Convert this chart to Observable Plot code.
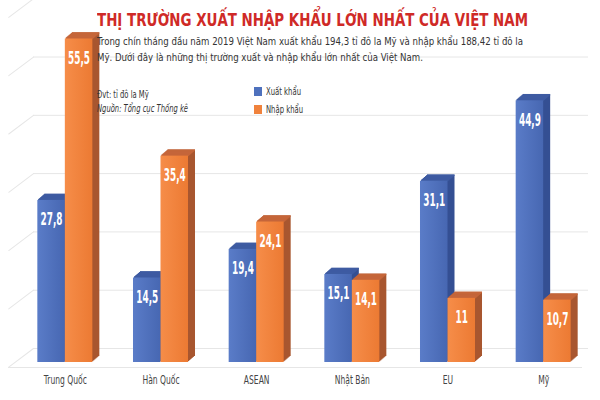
<!DOCTYPE html>
<html>
<head>
<meta charset="utf-8">
<script src="https://cdn.jsdelivr.net/npm/d3@7"></script>
<script src="https://cdn.jsdelivr.net/npm/@observablehq/plot@0.6"></script>
<style>
  html, body { margin: 0; padding: 0; background: #fff; }
  #wrap { position: relative; width: 600px; height: 400px; overflow: hidden;
          font-family: "DejaVu Sans Condensed", "DejaVu Sans", sans-serif; }
  #chart { position: absolute; left: 0; top: 0; }
  .ov { position: absolute; white-space: nowrap; transform-origin: 0 0; }
  #title { left: 97px; top: 12px; font-size: 17px; line-height: 1; font-weight: bold; color: #cf2a27; }
  #sub { left: 97px; top: 34px; font-size: 11px; line-height: 15.5px; color: #333; }
  #unit { left: 97px; top: 88px; font-size: 11px; line-height: 14px; color: #333; }
  #legend { left: 254px; top: 83px; font-size: 11px; line-height: 18px; color: #333; }
  #legend span.sw { display: inline-block; width: 8px; height: 9px; margin-right: 4px; vertical-align: -1px; }
  #legend span.lt { display: inline-block; transform-origin: 0 50%; }
</style>
</head>
<body>
<div id="wrap">
  <div id="chart"></div>
  <div class="ov" id="title"></div>
  <div class="ov" id="sub"></div>
  <div class="ov" id="unit"></div>
  <div class="ov" id="legend"></div>
</div>
<script>
// ---- data ----
const categories = ["Trung Quốc", "Hàn Quốc", "ASEAN", "Nhật Bản", "EU", "Mỹ"];
const exportValues = [27.8, 14.5, 19.4, 15.1, 31.1, 44.9];
const importValues = [55.5, 35.4, 24.1, 14.1, 11, 10.7];
const seriesNames = ["Xuất khẩu", "Nhập khẩu"];
const gridTicks = [0, 10, 20, 30, 40, 50, 60];
const titleText = "THỊ TRƯỜNG XUẤT NHẬP KHẨU LỚN NHẤT CỦA VIỆT NAM";
const subtitleLines = [
  "Trong chín tháng đầu năm 2019 Việt Nam xuất khẩu 194,3 tỉ đô la Mỹ và nhập khẩu 188,42 tỉ đô la",
  "Mỹ. Dưới đây là những thị trường xuất và nhập khẩu lớn nhất của Việt Nam."
];
const unitText = "Đvt: tỉ đô la Mỹ";
const sourceText = "Nguồn: Tổng cục Thống kê";

// ---- styles ----
const palette = {
  "Xuất khẩu": {front: "url(#gBlue)", top: "#3e5ba2", side: "#344f93", swatch: "#4e71bd"},
  "Nhập khẩu": {front: "url(#gOrange)", top: "#c5663a", side: "#a8562f", swatch: "#f0823c"}
};
const half = 27.5;      // half of band width (px)
const depthX = 7, depthY = 6, steps = 7;
const fontFam = '"DejaVu Sans Condensed", "DejaVu Sans", sans-serif';

const table = seriesNames.map((s, si) => categories.map((c, i) => ({
  country: c, series: s, value: (si === 0 ? exportValues : importValues)[i]
})));

function defsMark() {
  const ns = "http://www.w3.org/2000/svg";
  const defs = document.createElementNS(ns, "defs");
  const grads = [["gBlue", "#5a7cc8", "#4767b2"], ["gOrange", "#f68d49", "#ec7a33"]];
  for (const [id, a, b] of grads) {
    const g = document.createElementNS(ns, "linearGradient");
    g.setAttribute("id", id);
    g.setAttribute("x1", "0"); g.setAttribute("x2", "1");
    g.setAttribute("y1", "0"); g.setAttribute("y2", "0");
    for (const [off, col] of [["0", a], ["1", b]]) {
      const st = document.createElementNS(ns, "stop");
      st.setAttribute("offset", off); st.setAttribute("stop-color", col);
      g.appendChild(st);
    }
    defs.appendChild(g);
  }
  return defs;
}

const lineShape = {draw(context, l) { context.moveTo(0, 0); context.lineTo(0, -l); }};

const marks = [
  defsMark,
  Plot.ruleY(gridTicks, {dy: -14, insetLeft: 16, insetRight: 3, stroke: "#e6e6e6", strokeWidth: 1}),
  Plot.ruleY([0], {dy: 5, dx: -9, stroke: "#e6e6e6", strokeWidth: 1}),
  Plot.vector(gridTicks, {y: d => d, frameAnchor: "left", dx: 16, dy: -14, length: 31, rotate: 233,
    anchor: "start", stroke: "#e6e6e6", strokeWidth: 1, shape: lineShape})
];

table.forEach((rows, si) => {
  const s = seriesNames[si];
  const ins = si === 0 ? {insetLeft: 0, insetRight: half} : {insetLeft: half, insetRight: 0};
  for (let i = 1; i <= steps; i++) {
    marks.push(Plot.barY(rows, {x: "country", y: "value", ...ins, fill: palette[s].side,
      dx: i * depthX / steps, dy: -i * depthY / steps}));
  }
  for (let i = 1; i <= steps; i++) {
    marks.push(Plot.tickY(rows, {x: "country", y: "value", ...ins, stroke: palette[s].top,
      strokeWidth: 1.6, dx: i * depthX / steps, dy: -i * depthY / steps}));
  }
  marks.push(Plot.barY(rows, {x: "country", y: "value", ...ins, fill: palette[s].front}));
});

table.forEach((rows, si) => {
  marks.push(Plot.text(rows, {
    x: "country", y: "value", text: d => String(d.value).replace(".", ","),
    dx: si === 0 ? -half / 2 : half / 2, dy: 19, lineAnchor: "middle",
    fill: "white", fontWeight: "bold", fontSize: 18, fontFamily: fontFam
  }));
});

const chart = Plot.plot({
  width: 600,
  height: 400,
  marginTop: 0,
  marginBottom: 38,
  marginLeft: 17,
  marginRight: 9,
  style: {fontFamily: fontFam, fontSize: "12px", color: "#444", background: "transparent"},
  x: {domain: categories, paddingInner: 0.425, paddingOuter: 0.2125, round: false,
      label: null, tickSize: 0, tickPadding: 13},
  y: {domain: [0, 62.1], axis: null},
  marks
});
document.getElementById("chart").appendChild(chart);

// ---- condense texts horizontally (the reference uses a condensed face) ----
function condenseSvgText(el, k) {
  const xa = el.getAttribute("x"), ya = el.getAttribute("y");
  const t = el.getAttribute("transform") || "";
  if (xa != null || ya != null) {
    const X = +xa || 0, Y = +ya || 0;
    el.setAttribute("transform", `${t} translate(${X},${Y}) scale(${k},1) translate(${-X},${-Y})`);
  } else {
    el.setAttribute("transform", `${t} scale(${k},1)`);
  }
}
const texts = Array.from(chart.querySelectorAll("text"));
const axisTexts = texts.filter(t => categories.includes(t.textContent));
const valueTexts = texts.filter(t => !categories.includes(t.textContent));
const refAxis = axisTexts.find(t => t.textContent === "Trung Quốc");
const kAxis = refAxis ? 43 / refAxis.getComputedTextLength() : 0.8;
axisTexts.forEach(t => condenseSvgText(t, kAxis));
const refVal = valueTexts.find(t => t.textContent === "35,4");
const kVal = refVal ? 22 / refVal.getComputedTextLength() : 0.65;
valueTexts.forEach(t => condenseSvgText(t, kVal));

const titleEl = document.getElementById("title");
titleEl.textContent = titleText;
const subEl = document.getElementById("sub");
subEl.innerHTML = subtitleLines.join("<br>");
const unitEl = document.getElementById("unit");
unitEl.innerHTML = unitText + "<br><i>" + sourceText + "</i>";
const legEl = document.getElementById("legend");
legEl.innerHTML = seriesNames.map(s =>
  `<div><span class="sw" style="background:${palette[s].swatch}"></span><span class="lt">${s}</span></div>`).join("");

function fitWidth(el, target) {
  const w = el.getBoundingClientRect().width;
  if (w > 0) el.style.transform = `scaleX(${target / w})`;
}
fitWidth(titleEl, 431);
fitWidth(subEl, 426);
fitWidth(unitEl, 91);
legEl.querySelectorAll("span.lt").forEach((sp, i) => fitWidth(sp, i === 0 ? 35 : 37));
</script>
</body>
</html>
